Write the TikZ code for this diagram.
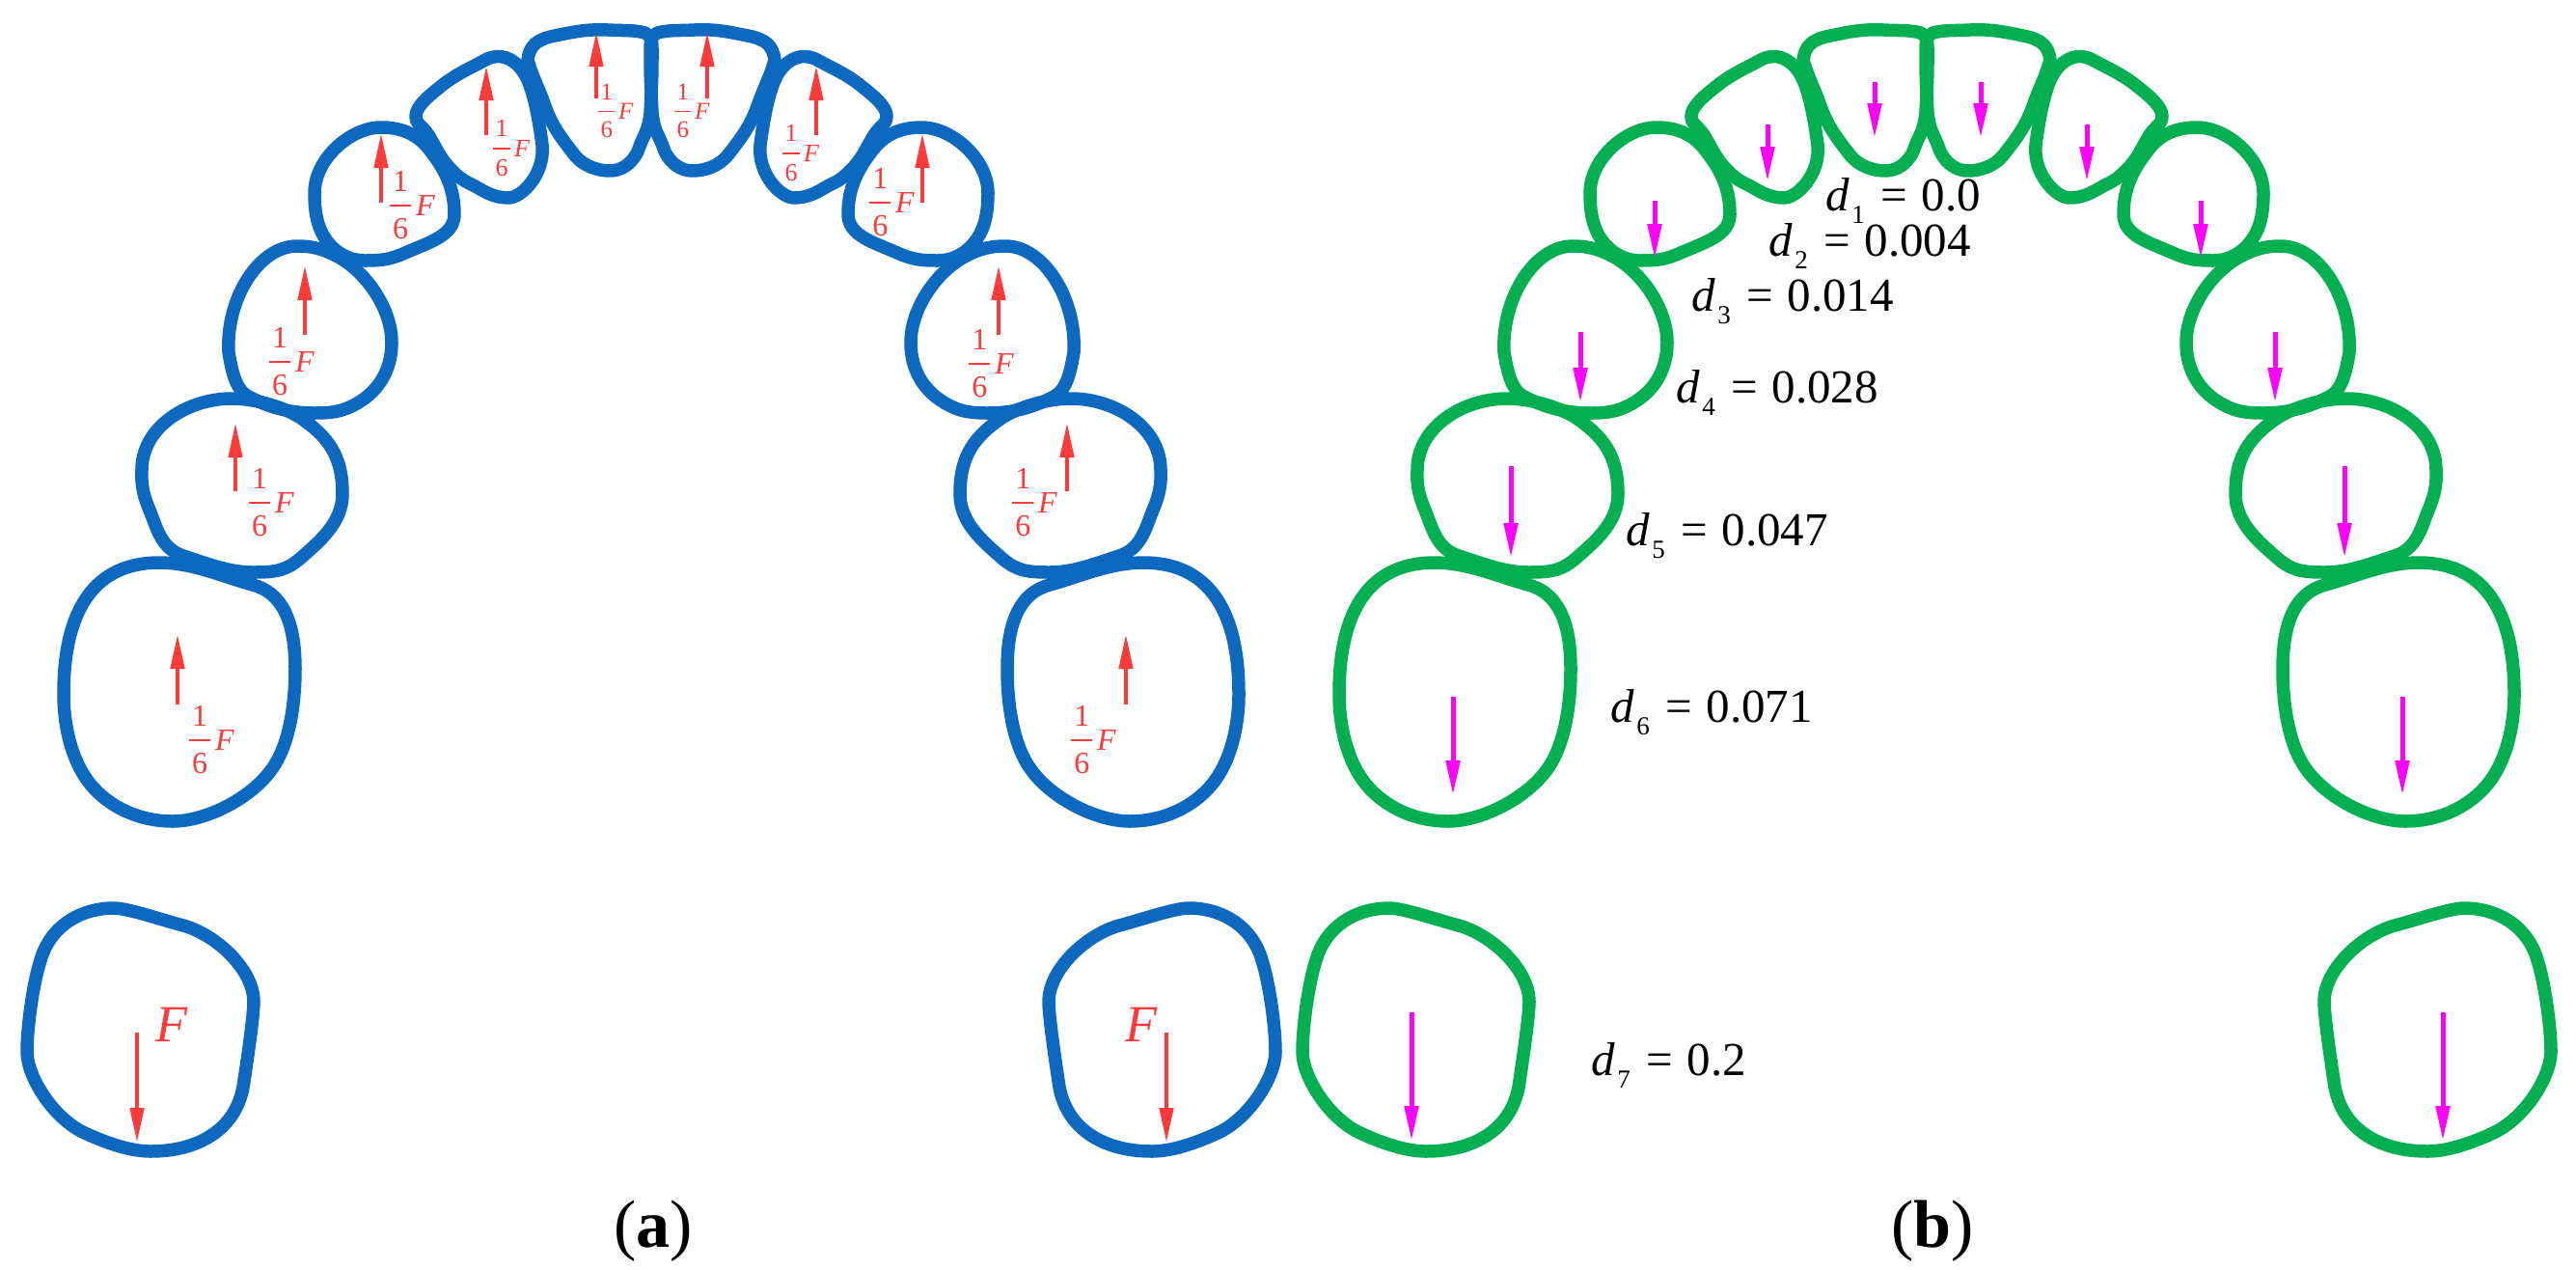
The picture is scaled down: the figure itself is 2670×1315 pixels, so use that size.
\documentclass[tikz,border=0pt]{standalone}
\usepackage{fontspec}
\setmainfont{Liberation Serif}
\usetikzlibrary{arrows.meta}
\definecolor{toothblue}{HTML}{0D68C0}
\definecolor{toothgreen}{HTML}{03AF50}
\definecolor{forcered}{HTML}{FF3A3A}
\definecolor{dispmag}{HTML}{FF00FF}
\newcommand{\oversix}{\rlap{\kern.095em\raisebox{.78em}{1}}\rlap{\kern.095em\raisebox{-.78em}{6}}\rule[.28em]{.69em}{.05em}\kern.15em\textit{F}}
\newcommand{\dlab}[2]{\textit{d}\kern.05em\raisebox{-.27em}{\fontsize{27}{27}\selectfont #1}\kern.34em=\kern.3em#2}
\newcommand{\toothset}{%
  \draw[toothline] (547,62) .. controls +(2,-14) and +(-20,4) .. (575,37) .. controls +(20,-4) and +(-22,-1) .. (630,31) .. controls +(22,1) and +(-12,-2) .. (664,33) .. controls +(8,1) and +(0,-12) .. (676,50) .. controls +(0,30) and +(2,-40) .. (674,117) .. controls +(-2,20) and +(6,-18) .. (661,157) .. controls +(-7,14) and +(11,0) .. (632,177) .. controls +(-11,0) and +(10,13) .. (595,160) .. controls +(-14,-18) and +(7,20) .. (565,110) .. controls +(-7,-20) and +(4,16) .. (547,62) -- cycle;
  \draw[toothline] (431,120) .. controls +(0,-10) and +(-14,11) .. (460,87) .. controls +(16,-12) and +(-18,10) .. (505,61) .. controls +(14,-6) and +(-10,-14) .. (542,74) .. controls +(10,14) and +(-4,-30) .. (562,150) .. controls +(3,30) and +(14,0) .. (527,205) .. controls +(-12,0) and +(10,6) .. (496,195) .. controls +(-12,-7) and +(12,12) .. (469,177) .. controls +(-12,-12) and +(8,14) .. (446,143) .. controls +(-8,-14) and +(0,10) .. (431,120) -- cycle;
  \draw[toothline] (395,132) .. controls +(18,0) and +(-14,-18) .. (445,155) .. controls +(14,18) and +(0,-30) .. (471,222) .. controls +(0,22) and +(25,-11) .. (420,262) .. controls +(-16,7) and +(18,0) .. (378,270) .. controls +(-16,0) and +(10,15) .. (337,247) .. controls +(-8,-12) and +(0,20) .. (326,200) .. controls +(0,-35) and +(-32,0) .. (395,132) -- cycle;
  \draw[toothline] (308,255) .. controls +(14,0) and +(-18,-10) .. (352,267) .. controls +(28,16) and +(0,-35) .. (406,355) .. controls +(0,30) and +(21,-12) .. (370,418) .. controls +(-14,8) and +(20,0) .. (326,428) .. controls +(-26,0) and +(22,12) .. (256,410) .. controls +(-12,-7) and +(3,18) .. (237,365) .. controls +(-3,-55) and +(-40,0) .. (308,255) -- cycle;
  \draw[toothline] (240,413) .. controls +(22,0) and +(-20,-12) .. (310,432) .. controls +(30,20) and +(0,-40) .. (355,512) .. controls +(0,30) and +(18,-16) .. (312,578) .. controls +(-16,14) and +(22,0) .. (262,593) .. controls +(-25,0) and +(25,8) .. (190,576) .. controls +(-22,-7) and +(7,18) .. (156,531) .. controls +(-6,-14) and +(-1,18) .. (147,487) .. controls +(0,-45) and +(-45,0) .. (240,413) -- cycle;
  \draw[toothline] (165,583) .. controls +(35,0) and +(-30,-8) .. (262,606) .. controls +(30,8) and +(0,-50) .. (306,693) .. controls +(0,40) and +(18,-24) .. (281,798) .. controls +(-22,30) and +(34,0) .. (179,851) .. controls +(-35,0) and +(19,23) .. (94,813) .. controls +(-19,-23) and +(0,35) .. (66,719) .. controls +(0,-90) and +(-65,0) .. (165,583) -- cycle;
  \draw[toothline] (118,941) .. controls +(15,0) and +(-20,-5) .. (190,959) .. controls +(35,10) and +(0,-33) .. (263,1038) .. controls +(0,15) and +(3,-20) .. (253,1120) .. controls +(-6,50) and +(50,0) .. (156,1193) .. controls +(-20,0) and +(22,10) .. (90,1175) .. controls +(-35,-15) and +(0,25) .. (28,1090) .. controls +(0,-25) and +(-8,25) .. (42,995) .. controls +(10,-35) and +(-35,0) .. (118,941) -- cycle;
}
\tikzset{
  toothline/.style={line width=13.5pt,line join=round},
  redforce/.style={forcered,line width=4.5pt,-{Triangle[length=36pt,width=14pt]}},
  magdisp/.style={dispmag,line width=5pt,-{Triangle[length=36pt,width=14pt]}},
  sixlabel/.style={forcered,anchor=base west,inner sep=0pt,font=\fontsize{#1}{#1}\selectfont},
  dvalue/.style={black,anchor=base west,inner sep=0pt,font=\fontsize{49}{49}\selectfont},
  caption/.style={black,anchor=base west,inner sep=0pt,font=\fontsize{70}{70}\selectfont}
}
\begin{document}
\begin{tikzpicture}[x=1pt,y=-1pt]
\useasboundingbox[fill=white] (0,0) rectangle (2670,1315);
% tooth outlines
\begin{scope}[toothblue] \toothset \end{scope}
\begin{scope}[toothblue,shift={(1350pt,0pt)},xscale=-1] \toothset \end{scope}
\begin{scope}[toothgreen,shift={(1322pt,0pt)}] \toothset \end{scope}
\begin{scope}[toothgreen,shift={(2672pt,0pt)},xscale=-1] \toothset \end{scope}
% red force arrows
\draw[redforce] (618,102) -- (618,33);
\draw[redforce] (504,140) -- (504,68);
\draw[redforce] (395,210) -- (395,138);
\draw[redforce] (316,347) -- (316,275);
\draw[redforce] (244,509) -- (244,438);
\draw[redforce] (184,730) -- (184,657);
\draw[redforce] (142,1070) -- (142,1184);
\draw[redforce] (733,102) -- (733,33);
\draw[redforce] (846,140) -- (846,68);
\draw[redforce] (956,210) -- (956,138);
\draw[redforce] (1035,347) -- (1035,275);
\draw[redforce] (1106,509) -- (1106,438);
\draw[redforce] (1167,730) -- (1167,657);
\draw[redforce] (1209,1070) -- (1209,1184);
% magenta displacement arrows
\draw[magdisp] (1943,85) -- (1943,143);
\draw[magdisp] (1832,129) -- (1832,188);
\draw[magdisp] (1715,208) -- (1715,268);
\draw[magdisp] (1638,344) -- (1638,417);
\draw[magdisp] (1566,483) -- (1566,578);
\draw[magdisp] (1506,722) -- (1506,824);
\draw[magdisp] (1463,1049) -- (1463,1182);
\draw[magdisp] (2053,85) -- (2053,143);
\draw[magdisp] (2163,129) -- (2163,188);
\draw[magdisp] (2281,208) -- (2281,268);
\draw[magdisp] (2358,344) -- (2358,417);
\draw[magdisp] (2430,483) -- (2430,578);
\draw[magdisp] (2490,722) -- (2490,824);
\draw[magdisp] (2532,1049) -- (2532,1182);
% force labels
\node[sixlabel=25] (fa) at (620,123) {\oversix};
\node[sixlabel=26] (fb) at (511,162) {\oversix};
\node[sixlabel=32] (fc) at (404,223) {\oversix};
\node[sixlabel=32] (fd) at (279,385) {\oversix};
\node[sixlabel=32] (fe) at (258,531) {\oversix};
\node[sixlabel=32] (ff) at (196,777) {\oversix};
\node[sixlabel=54] (fg) at (161,1079) {\textit{F}};
\node[sixlabel=25] (ga) at (699,123) {\oversix};
\node[sixlabel=26] (gb) at (811,167) {\oversix};
\node[sixlabel=32] (gc) at (901,220) {\oversix};
\node[sixlabel=32] (gd) at (1004,387) {\oversix};
\node[sixlabel=32] (ge) at (1049,531) {\oversix};
\node[sixlabel=32] (gf) at (1110,777) {\oversix};
\node[sixlabel=54] (gg) at (1166,1079) {\textit{F}};
% displacement labels
\node[dvalue] (d1) at (1892,218) {\dlab{1}{0.0}};
\node[dvalue] (d2) at (1833,265) {\dlab{2}{0.004}};
\node[dvalue] (d3) at (1753,322) {\dlab{3}{0.014}};
\node[dvalue] (d4) at (1737,417) {\dlab{4}{0.028}};
\node[dvalue] (d5) at (1685,565) {\dlab{5}{0.047}};
\node[dvalue] (d6) at (1669,748) {\dlab{6}{0.071}};
\node[dvalue] (d7) at (1649,1114) {\dlab{7}{0.2}};
% captions
\node[caption] (capa) at (636,1292) {({\bfseries a})};
\node[caption] (capb) at (1960,1292) {({\bfseries b})};
\end{tikzpicture}
\end{document}
